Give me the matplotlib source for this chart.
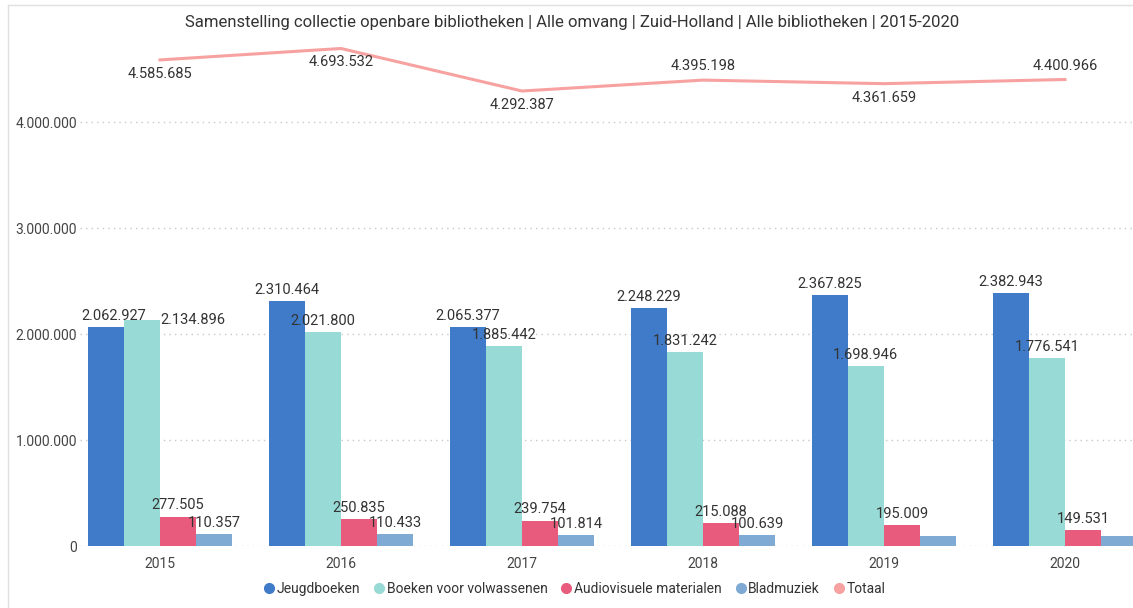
import matplotlib
matplotlib.use("Agg")
import matplotlib.pyplot as plt
from matplotlib.lines import Line2D
from matplotlib.ticker import FuncFormatter
import numpy as np

plt.rcParams['font.family'] = ['Roboto', 'DejaVu Sans']

years = ['2015', '2016', '2017', '2018', '2019', '2020']
series_names = ['Jeugdboeken', 'Boeken voor volwassenen', 'Audiovisuele materialen', 'Bladmuziek']
jeugdboeken = [2062927, 2310464, 2065377, 2248229, 2367825, 2382943]
boeken_volwassenen = [2134896, 2021800, 1885442, 1831242, 1698946, 1776541]
audiovisueel = [277505, 250835, 239754, 215088, 195009, 149531]
bladmuziek = [110357, 110433, 101814, 100639, 97000, 92000]
totaal = [4585685, 4693532, 4292387, 4395198, 4361659, 4400966]
# labels for bladmuziek 2019/2020 are not shown in the reference
blad_shown = [True, True, True, True, False, False]

colors = ['#3F7BC8', '#98DAD5', '#E95B7C', '#7EAAD3']
line_color = '#F7A1A1'
text_color = '#333333'


def dots(v, pos=None):
    return f"{int(round(v)):,}".replace(',', '.')


fig = plt.figure(figsize=(11.33, 6.08), dpi=100)
ax = fig.add_axes([80 / 1133, 1 - 546 / 608, 1 - 80 / 1133, (546 - 42.5) / 608])

x = np.arange(len(years))
w = 0.2
all_series = [jeugdboeken, boeken_volwassenen, audiovisueel, bladmuziek]
for i, (vals, c) in enumerate(zip(all_series, colors)):
    pos = x + (i - 1.5) * w
    ax.bar(pos, vals, width=w, color=c, zorder=2)
    for j, (p, v) in enumerate(zip(pos, vals)):
        if i == 3 and not blad_shown[j]:
            continue
        if i == 1 and j == 0:
            # label pushed to the right of the bar like in the report
            ax.annotate(dots(v), (p + w / 2, v), xytext=(0, 0), textcoords='offset points',
                        ha='left', va='center', fontsize=10.5, color=text_color, zorder=4)
            continue
        dx = 6 if (i == 0 and j == 0) else 0
        ax.annotate(dots(v), (p, v), xytext=(dx, 3), textcoords='offset points',
                    ha='center', va='bottom', fontsize=10.5, color=text_color, zorder=4)

ax.plot(x, totaal, color=line_color, lw=2.2, zorder=3)
label_side = [-1, -1, -1, 1, -1, 1]
for xi, v, s in zip(x, totaal, label_side):
    ax.annotate(dots(v), (xi, v), xytext=(0, 10 * s), textcoords='offset points',
                ha='center', va='center', fontsize=10.5, color=text_color, zorder=4)

ax.set_xlim(-0.442, 5.376)
ax.set_ylim(0, 4.75e6)
ax.set_yticks([0, 1e6, 2e6, 3e6, 4e6])
ax.yaxis.set_major_formatter(FuncFormatter(dots))
ax.set_xticks(x)
ax.set_xticklabels(years)
ax.tick_params(axis='y', length=0, labelsize=10, colors='#444444', pad=2)
ax.tick_params(axis='x', length=0, labelsize=10, colors='#444444', pad=8)
ax.grid(axis='y', linestyle=(0, (1, 3)), color='#C8C8C8', lw=1, zorder=0)
for s in ax.spines.values():
    s.set_visible(False)

fig.text(572 / 1133, 1 - 22 / 608, 'Samenstelling collectie openbare bibliotheken | Alle omvang | Zuid-Holland | Alle bibliotheken | 2015-2020',
         ha='center', va='center', fontsize=12, color='#333333')

handles = [Line2D([], [], marker='o', ls='', color=c, markersize=7) for c in colors + [line_color]]
fig.legend(handles, series_names + ['Totaal'], loc='center', bbox_to_anchor=(572 / 1133, 1 - 589 / 608),
           ncol=5, frameon=False, fontsize=10, handletextpad=-0.2, columnspacing=0.6,
           handlelength=1.5, labelcolor='#333333')

fig.add_artist(Line2D([8 / 1133, 8 / 1133], [0, 1 - 5 / 608], color='#E0E0E0', lw=1))
fig.add_artist(Line2D([8 / 1133, 1], [1 - 5 / 608, 1 - 5 / 608], color='#E0E0E0', lw=1))

fig.savefig('out.png', dpi=100)
